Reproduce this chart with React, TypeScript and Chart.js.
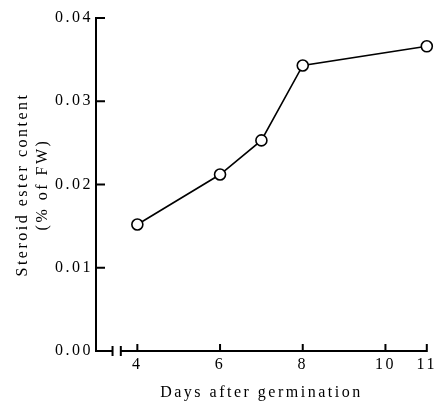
import React, { useEffect, useRef } from 'react';
import { Chart, registerables } from 'chart.js';

Chart.register(...registerables);

// ---- data ----
const days = [4, 6, 7, 8, 11];
const esterContent = [0.0152, 0.0212, 0.0253, 0.0343, 0.0366];
const xTickDays = [4, 6, 8, 10, 11];
const yTickValues = [0, 0.01, 0.02, 0.03, 0.04];
const xTitle = 'Days after germination';
const yTitle = ['Steroid ester content', '(% of FW)'];
const xMin = 3;
const xMax = 11;
const breakStart = 3.4;
const breakEnd = 3.6;

const FONT = "'Liberation Serif', 'Times New Roman', serif";
const INK = '#000';
const SPACING = '2.5px';

const setSpacing = (chart: any) => {
  try { chart.ctx.letterSpacing = SPACING; } catch (e) {}
};

const paperAxes = {
  id: 'paperAxes',
  beforeInit: setSpacing,
  beforeUpdate: setSpacing,
  beforeLayout: setSpacing,
  beforeDraw: setSpacing,
  afterDraw(chart: any) {
    const { ctx, chartArea, scales } = chart;
    const { left, right, top, bottom } = chartArea;
    const x = scales.x;
    const y = scales.y;
    ctx.save();
    ctx.strokeStyle = INK;
    ctx.lineWidth = 2;
    ctx.lineCap = 'butt';
    ctx.beginPath();
    // y axis
    ctx.moveTo(left, top - 1);
    ctx.lineTo(left, bottom + 1);
    yTickValues.forEach((v) => {
      const py = y.getPixelForValue(v);
      ctx.moveTo(left, py);
      ctx.lineTo(left + 9, py);
    });
    // x axis with break
    const b1 = x.getPixelForValue(breakStart);
    const b2 = x.getPixelForValue(breakEnd);
    ctx.moveTo(left - 1, bottom);
    ctx.lineTo(b1, bottom);
    ctx.moveTo(b2, bottom);
    ctx.lineTo(right + 1, bottom);
    ctx.moveTo(b1, bottom - 5);
    ctx.lineTo(b1, bottom + 5);
    ctx.moveTo(b2, bottom - 5);
    ctx.lineTo(b2, bottom + 5);
    xTickDays.forEach((v) => {
      const px = x.getPixelForValue(v);
      ctx.moveTo(px, bottom);
      ctx.lineTo(px, bottom - 7);
    });
    ctx.stroke();
    ctx.restore();
  },
};

export default function App() {
  const ref = useRef<HTMLCanvasElement | null>(null);

  useEffect(() => {
    if (!ref.current) return;
    const chart = new Chart(ref.current, {
      type: 'line',
      data: {
        datasets: [
          {
            data: days.map((d, i) => ({ x: d, y: esterContent[i] })),
            borderColor: INK,
            borderWidth: 1.6,
            backgroundColor: '#fff',
            pointRadius: 5.5,
            pointBorderWidth: 1.6,
            pointBackgroundColor: '#fff',
            pointBorderColor: INK,
            tension: 0,
            clip: false as any,
          },
        ],
      },
      options: {
        responsive: false,
        animation: false,
        layout: { padding: { top: 18, right: 13, bottom: 0, left: 0 } },
        plugins: { legend: { display: false }, tooltip: { enabled: false } },
        scales: {
          x: {
            type: 'linear',
            min: xMin,
            max: xMax,
            grid: { display: false, drawTicks: false },
            border: { display: false },
            afterBuildTicks: (scale: any) => {
              scale.ticks = xTickDays.map((v) => ({ value: v }));
            },
            afterFit: (scale: any) => {
              scale.height = 50;
            },
            ticks: {
              autoSkip: false,
              maxRotation: 0,
              padding: 3,
              color: INK,
              font: { family: FONT, size: 16, lineHeight: 1.3 },
              callback: (v: any) => String(v),
            },
            title: {
              display: true,
              text: xTitle,
              color: INK,
              font: { family: FONT, size: 16, lineHeight: 1.0 },
              padding: { top: 0, bottom: 0 },
            },
          },
          y: {
            type: 'linear',
            min: 0,
            max: 0.04,
            grid: { display: false, drawTicks: false },
            border: { display: false },
            afterBuildTicks: (scale: any) => {
              scale.ticks = yTickValues.map((v) => ({ value: v }));
            },
            afterFit: (scale: any) => {
              scale.width = 96;
            },
            ticks: {
              padding: 3,
              color: INK,
              font: { family: FONT, size: 16, lineHeight: 1.3 },
              callback: (v: any) => Number(v).toFixed(2),
            },
            title: {
              display: true,
              text: yTitle,
              color: INK,
              font: { family: FONT, size: 16, lineHeight: 1.3 },
              padding: { top: 12, bottom: 0 },
            },
          },
        },
      },
      plugins: [paperAxes],
    });
    return () => chart.destroy();
  }, []);

  return (
    <div style={{ position: 'fixed', left: 0, top: 0, width: 440, height: 401, background: '#fff' }}>
      <canvas ref={ref} width={440} height={401} />
    </div>
  );
}
